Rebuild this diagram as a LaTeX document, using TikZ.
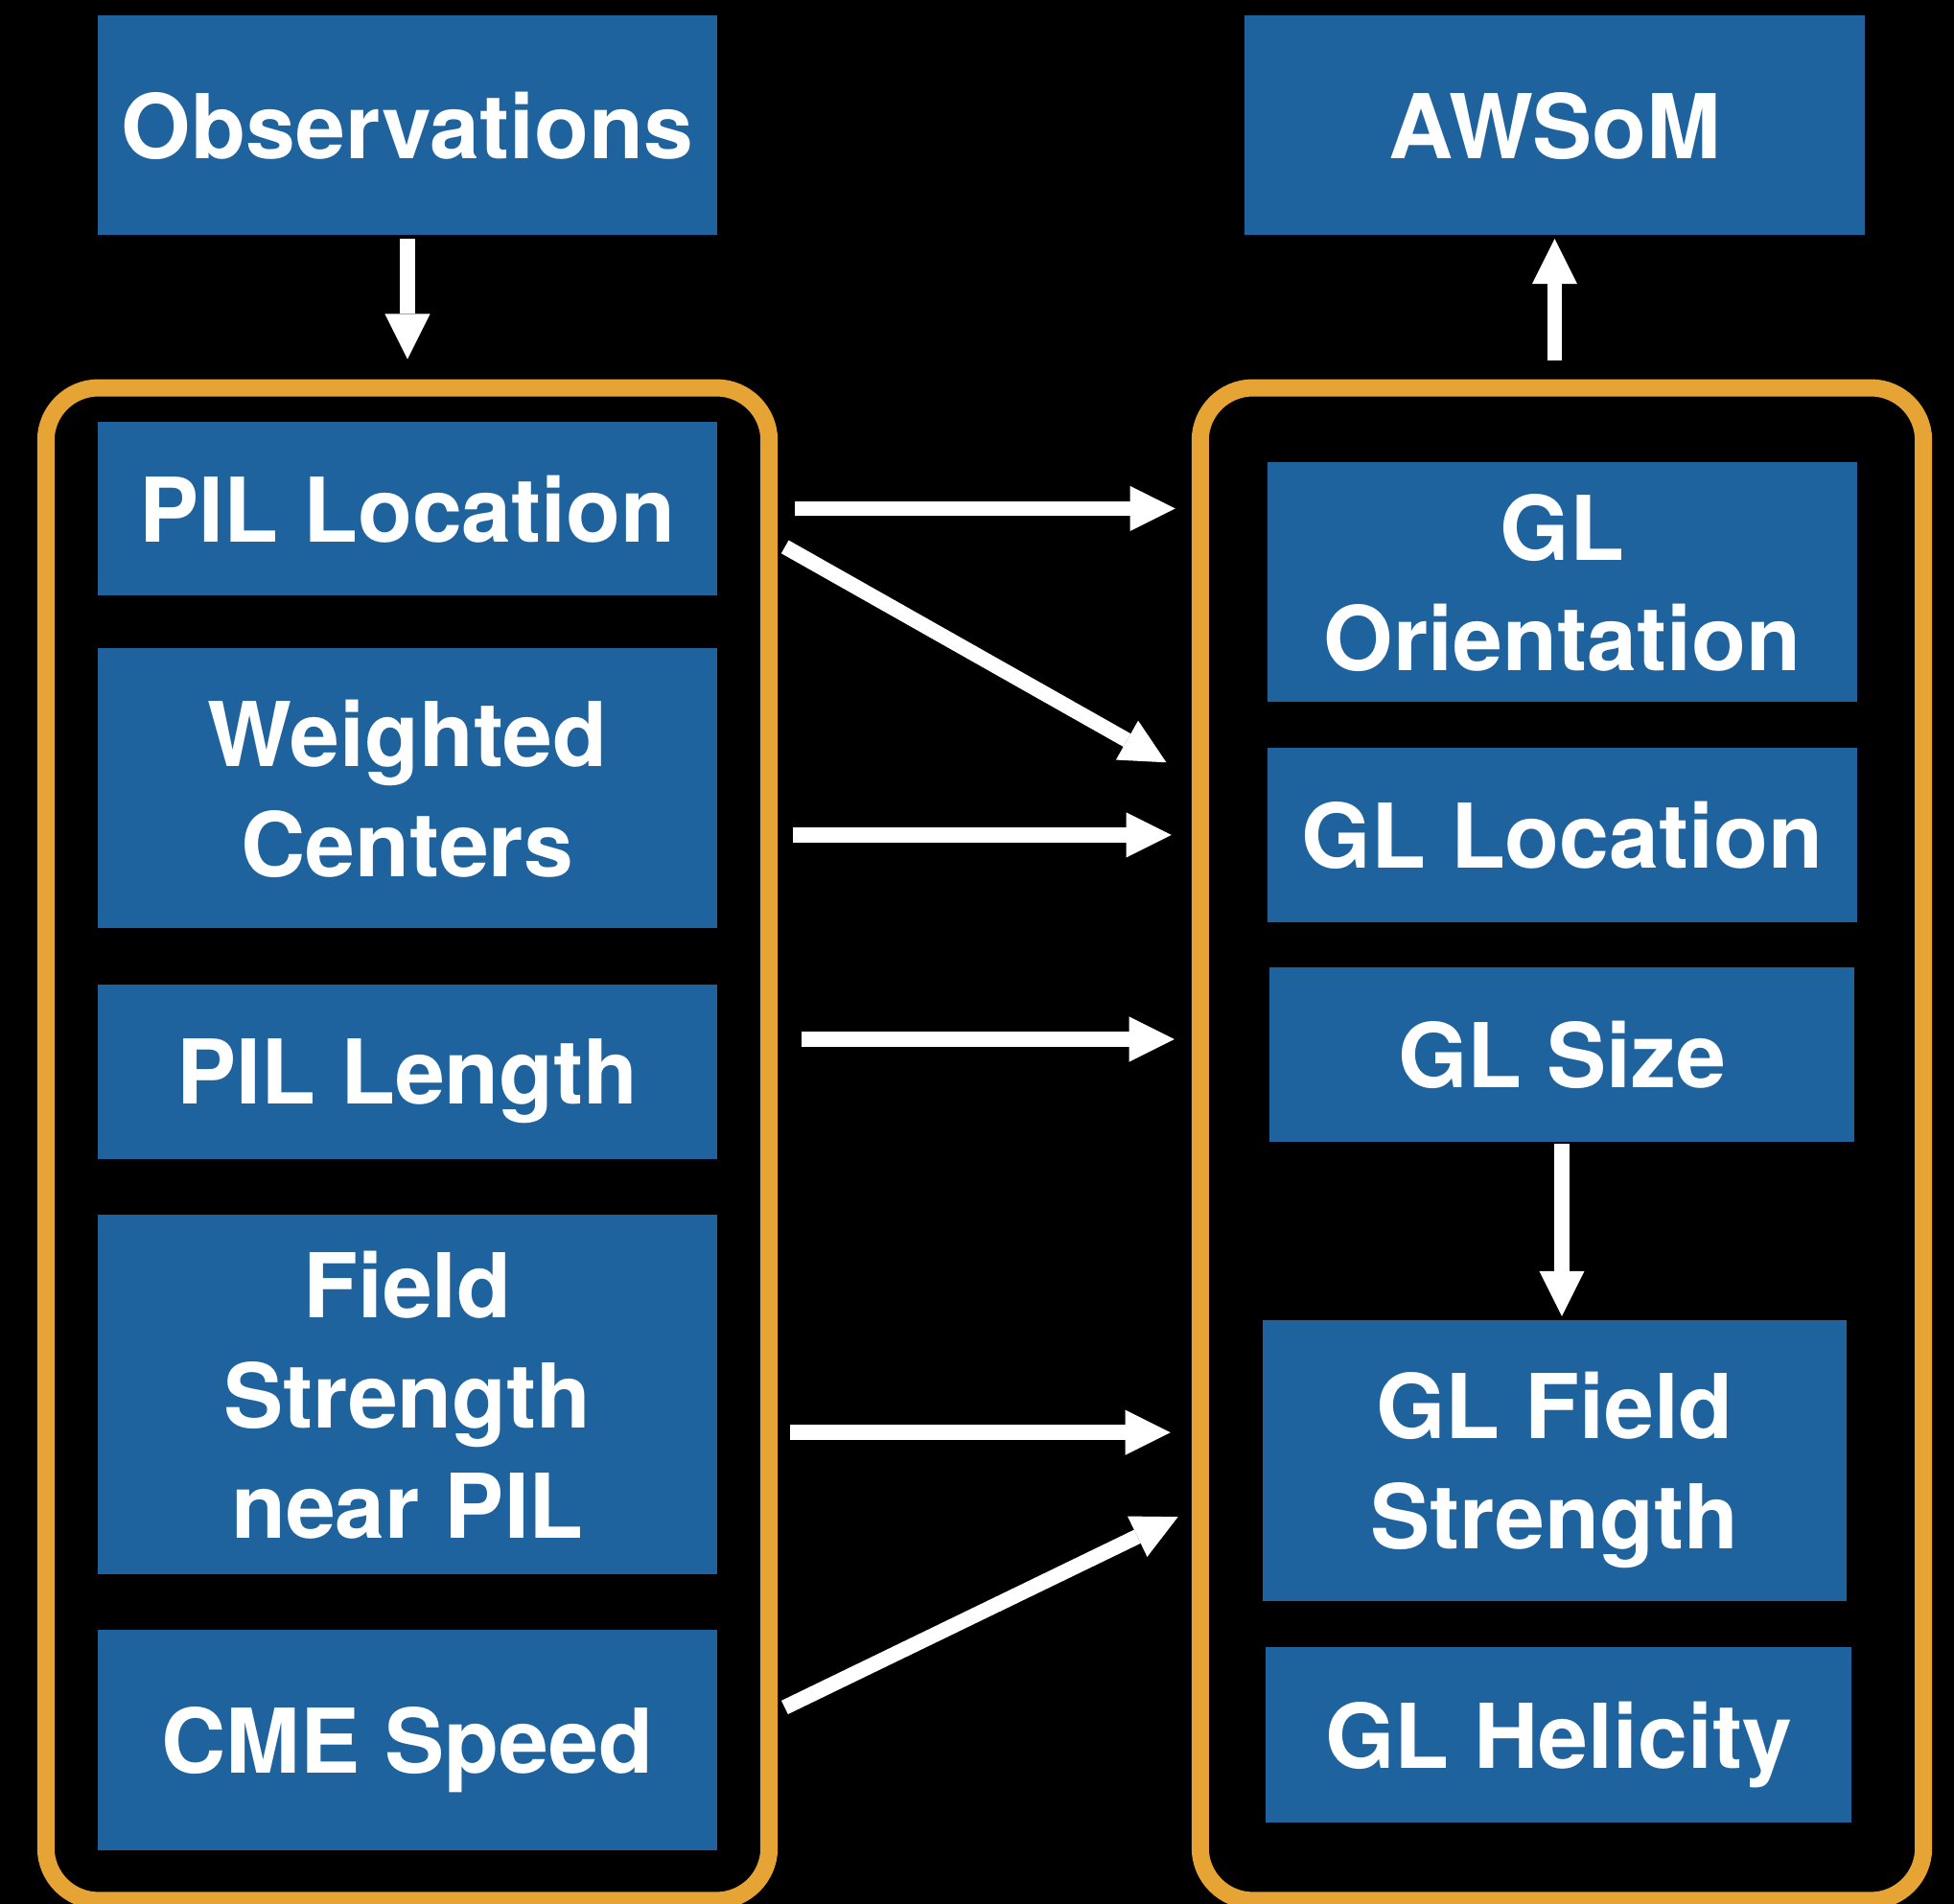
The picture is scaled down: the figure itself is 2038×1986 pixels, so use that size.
\documentclass[tikz,border=0pt]{standalone}
\usepackage{fontspec}
\usetikzlibrary{arrows.meta}
\newfontfamily\heros{TeX Gyre Heros}
\definecolor{boxblue}{RGB}{30,98,158}
\definecolor{frameorange}{RGB}{230,164,52}
\begin{document}
\begin{tikzpicture}[x=0.01cm, y=-0.01cm,
  box/.style={fill=boxblue, text=white, inner sep=0pt, outer sep=0pt, align=center, text depth=0pt,
    font=\heros\bfseries\fontsize{26.5}{32.7}\selectfont},
  group/.style={draw=frameorange, line width=0.18cm, rounded corners=0.55cm, inner sep=0pt, outer sep=0pt,
    minimum width=7.54cm, minimum height=15.77cm},
  flow/.style={draw=white, line width=0.157cm, -{Triangle[length=4.7mm, width=4.7mm, line width=0pt]}}]
\path[use as bounding box, fill=black] (0,0) rectangle (2038,1986);

\node[group] (leftgrp) at (425,1193.5) {};
\node[group] (rightgrp) at (1629,1193.5) {};

\node[box, minimum width=6.46cm, minimum height=2.29cm] (obs) at (425,130.5) {Observations};
\node[box, minimum width=6.46cm, minimum height=1.81cm] (pilloc) at (425,530.5) {PIL Location};
\node[box, minimum width=6.46cm, minimum height=2.92cm] (wcent) at (425,822) {Weighted\\Centers};
\node[box, minimum width=6.46cm, minimum height=1.82cm] (pillen) at (425,1118) {PIL Length};
\node[box, minimum width=6.46cm, minimum height=3.75cm] (field) at (425,1454.5) {Field\\Strength\\near PIL};
\node[box, minimum width=6.46cm, minimum height=2.30cm] (cme) at (425,1815) {CME Speed};

\node[box, minimum width=6.47cm, minimum height=2.29cm] (awsom) at (1621.5,130.5) {AWSoM};
\node[box, minimum width=6.15cm, minimum height=2.50cm] (glori) at (1629.5,607) {GL\\Orientation};
\node[box, minimum width=6.15cm, minimum height=1.82cm] (glloc) at (1629.5,871) {GL Location};
\node[box, minimum width=6.10cm, minimum height=1.82cm] (glsize) at (1629,1100) {GL Size};
\node[box, minimum width=6.09cm, minimum height=2.93cm] (glfield) at (1621.5,1523.5) {GL Field\\Strength};
\node[box, minimum width=6.11cm, minimum height=1.83cm] (glhel) at (1625.5,1809.5) {GL Helicity};

\draw[flow, shorten <=0.04cm, shorten >=0.3cm] (obs) -- (leftgrp);
\draw[flow, shorten <=0.29cm, shorten >=0.04cm] (awsom.south |- rightgrp.north) -- (awsom.south);
\draw[flow, shorten <=0.02cm, shorten >=0.04cm] (glsize.south) -- (glsize.south |- glfield.north);

\draw[flow, shorten <=0.27cm, shorten >=0.26cm] (pilloc.east -| leftgrp.east) -- (pilloc.east -| rightgrp.west);
\draw[flow, shorten <=0.81cm, shorten >=1.21cm] (pilloc.east) -- (glloc.177);
\draw[flow, shorten <=0.25cm, shorten >=0.30cm] (glloc.west -| leftgrp.east) -- (glloc.west -| rightgrp.west);
\draw[flow, shorten <=0.34cm, shorten >=0.27cm] (glsize.177 -| leftgrp.east) -- (glsize.177 -| rightgrp.west);
\draw[flow, shorten <=0.22cm, shorten >=0.31cm] (field.-7 -| leftgrp.east) -- (field.-7 -| rightgrp.west);
\draw[flow, shorten <=0.78cm, shorten >=0.98cm] (cme.east) -- (glfield.183);
\end{tikzpicture}
\end{document}
